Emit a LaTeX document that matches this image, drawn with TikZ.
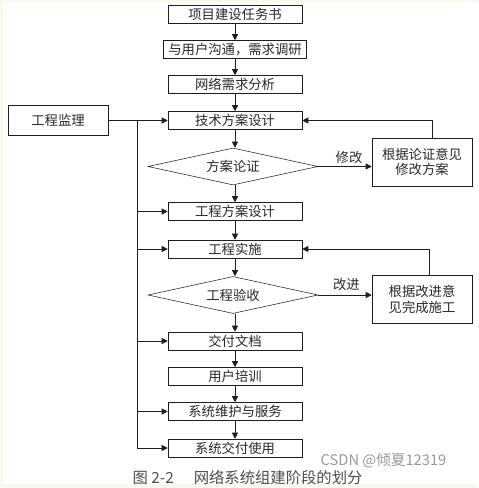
\documentclass[tikz,border=0pt]{standalone}
\usepackage{fontspec}
\setmainfont{Noto Sans CJK SC}
\usepackage{tikz}
\usetikzlibrary{arrows.meta,positioning,shapes.geometric,calc}
\definecolor{linec}{RGB}{30,30,30}
\definecolor{textc}{RGB}{40,40,40}
\definecolor{paperc}{RGB}{250,248,238}
\tikzset{
  box/.style    = {draw=linec, minimum width=100.5pt, minimum height=13.5pt,
                   inner sep=0pt, font=\fontsize{10}{11}\selectfont, text=textc},
  widebox/.style= {box, minimum width=107pt},
  sidebox/.style= {box, minimum width=75pt, minimum height=36pt, align=center,
                   font=\fontsize{10}{11.5}\selectfont},
  supbox/.style = {box, minimum width=75pt, minimum height=22.5pt},
  check/.style  = {draw=linec, diamond, aspect=4.6, minimum width=127.5pt,
                   minimum height=27.75pt, inner sep=0pt,
                   font=\fontsize{10}{11}\selectfont, text=textc},
  flow/.style   = {-{Triangle[length=4.5pt,width=4.5pt]}, linec, line width=0.6pt},
  wire/.style   = {linec, line width=0.6pt},
  elab/.style   = {font=\fontsize{10}{11}\selectfont, text=textc, inner sep=1pt},
}

\begin{document}
\begin{tikzpicture}[x=0.75pt, y=-0.75pt]

% ---- paper ----
\fill[paperc] (0,0) rectangle (478,488);
\fill[white] (3,2) rectangle (478,484);
\useasboundingbox (0,0) rectangle (478,488);

% ---- main chain ----
\node[box]     (task)   at (235,14)    {项目建设任务书};
\node[widebox] (talk)   at (235,49.5)  {与用户沟通，需求调研};
\node[box]     (need)   at (235,84.5)  {网络需求分析};
\node[box]     (tech)   at (235,120.5) {技术方案设计};
\node[check]   (argue)  at (233,166.5) {方案论证};
\node[box]     (proj)   at (235,211.5) {工程方案设计};
\node[box]     (build)  at (235,249)   {工程实施};
\node[check]   (accept) at (233,295)   {工程验收};
\node[box]     (docs)   at (235,341)   {交付文档};
\node[box]     (train)  at (235,376.5) {用户培训};
\node[box]     (serve)  at (235,411.5) {系统维护与服务};
\node[box]     (use)    at (235,448)   {系统交付使用};

\draw[flow] (task) -- (talk);
\draw[flow] (talk) -- (need);
\draw[flow] (need) -- (tech);
\draw[flow] (tech) -- (argue.north -| tech.south);
\draw[flow] (argue.south -| proj.north) -- (proj);
\draw[flow] (proj) -- (build);
\draw[flow] (build) -- (accept.north -| build.south);
\draw[flow] (accept.south -| docs.north) -- (docs);
\draw[flow] (docs) -- (train);
\draw[flow] (train) -- (serve);
\draw[flow] (serve) -- (use);

% ---- revision loops ----
\node[sidebox] (fix1) at (422,162) {根据论证意见\\修改方案};
\node[sidebox] (fix2) at (422,299.5) {根据改进意\\见完成施工};
\draw[flow] (argue.east) -- node[elab, above, xshift=3pt, yshift=1pt]{修改} (argue.east -| fix1.west);
\draw[flow] (accept.east) -- node[elab, above, xshift=1pt, yshift=2pt]{改进} (accept.east -| fix2.west);
\draw[flow] ([xshift=7.5pt]fix1.north) |- (tech.east);
\draw[flow] ([xshift=5.25pt]fix2.north) |- (build.east);

% ---- supervision bus ----
\node[supbox] (sup) at (58,120.5) {工程监理};
\coordinate (bus) at (137,120.5);
\draw[flow] (sup) -- (tech);
\draw[wire] (bus) -- (bus |- use.west);
\foreach \n in {proj,build,docs,serve,use}
  \draw[flow] (bus |- \n.west) -- (\n.west);

% ---- caption ----
\node[text=black!70, font=\fontsize{11.5}{13}\selectfont, anchor=west] (cap)
  at (128,478) {图 2-2\hspace{1.3em}网络系统组建阶段的划分};
\node[text=black!40, font=\fontsize{11}{12}\selectfont, anchor=west] (mark)
  at (316,461) {CSDN @倾夏12319};

\end{tikzpicture}
\end{document}
